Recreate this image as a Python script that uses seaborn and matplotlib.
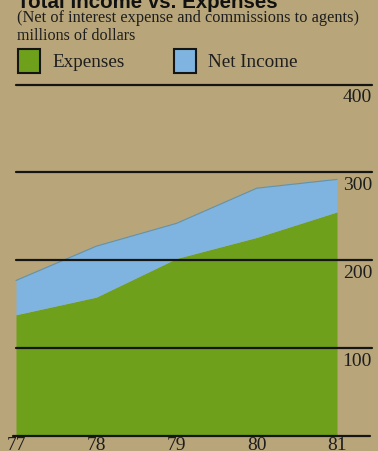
import matplotlib
matplotlib.use("Agg")
import matplotlib.pyplot as plt
from matplotlib.patches import Rectangle
import seaborn as sns
import pandas as pd

# Data (millions of dollars)
years = [1977, 1978, 1979, 1980, 1981]
year_labels = ["77", "78", "79", "80", "81"]
expenses = [138, 158, 202, 226, 255]
net_income = [39, 58, 40, 56, 37]
gridlines = [100, 200, 300, 400]
grid_labels = ["100", "200", "300", "400"]

df = pd.DataFrame({"year": years, "expenses": expenses, "net_income": net_income})
df["total"] = df["expenses"] + df["net_income"]

BG = "#b8a67a"
GREEN = "#6ea01b"
BLUE = "#7eb4df"
SERIF = "Liberation Serif"

sns.set_style("white")
plt.rcParams["font.family"] = [SERIF, "DejaVu Serif"]

W, H = 378, 451
fig = plt.figure(figsize=(W / 100, H / 100), dpi=100, facecolor=BG)


def fx(px):
    return px / W


def fy(py):
    return 1 - py / H


left, right, top, bottom = 13, 372, 84.5, 436
ax = fig.add_axes([fx(left), fy(bottom), fx(right) - fx(left), fy(top) - fy(bottom)])
ax.set_facecolor(BG)

# x scale: 1977 at px 16, 1981 at px 337
ppy = (337 - 16) / 4
ax.set_xlim(1977 - (16 - left) / ppy, 1981 + (right - 337) / ppy)
ax.set_ylim(0, 400)

ax.fill_between(df["year"], 0, df["expenses"], color=GREEN, linewidth=0, zorder=2)
ax.fill_between(df["year"], df["expenses"], df["total"], color=BLUE, linewidth=0, zorder=2)
sns.lineplot(data=df, x="year", y="total", ax=ax, color="#5a94b8", linewidth=0.8, zorder=3)

for v in gridlines:
    ax.axhline(v, color="#151515", linewidth=1.6, xmin=(16 - left) / (right - left), xmax=1,
               zorder=4, clip_on=False)
ax.axhline(0, color="#151515", linewidth=1.6, xmin=0, xmax=(370 - left) / (right - left),
           zorder=4, clip_on=False)

for v, lab in zip(gridlines, grid_labels):
    ax.annotate(lab, xy=(1, v), xycoords=("axes fraction", "data"), xytext=(0, -3.5),
                textcoords="offset points", ha="right", va="top", fontsize=14,
                color="#1e1e1e", zorder=5)

ax.set_xticks(years)
ax.set_xticklabels(year_labels, fontsize=14, color="#1e1e1e")
ax.tick_params(axis="x", length=0, pad=1)
ax.set_yticks([])
ax.set_xlabel("")
ax.set_ylabel("")
for s in ax.spines.values():
    s.set_visible(False)

# Heading
fig.text(fx(17), fy(7.5), "Total Income vs. Expenses", fontsize=14.8, fontweight="bold",
         family=["Liberation Sans", "DejaVu Sans"], va="baseline", ha="left", color="#111111")
fig.text(fx(17), fy(22.5), "(Net of interest expense and commissions to agents)",
         fontsize=11.8, va="baseline", ha="left", color="#1e1e1e")
fig.text(fx(17), fy(39.5), "millions of dollars", fontsize=11.6, va="baseline",
         ha="left", color="#1e1e1e")

# Legend
for x0, col, lab, tx in [(18, GREEN, "Expenses", 52), (174, BLUE, "Net Income", 208)]:
    fig.add_artist(Rectangle((fx(x0), fy(72.5)), fx(22), 24 / H, transform=fig.transFigure,
                             facecolor=col, edgecolor="#151515", linewidth=1.5))
    fig.text(fx(tx), fy(67), lab, fontsize=13.8, va="baseline", ha="left", color="#1e1e1e")

fig.savefig("out.png", dpi=100, facecolor=BG)
